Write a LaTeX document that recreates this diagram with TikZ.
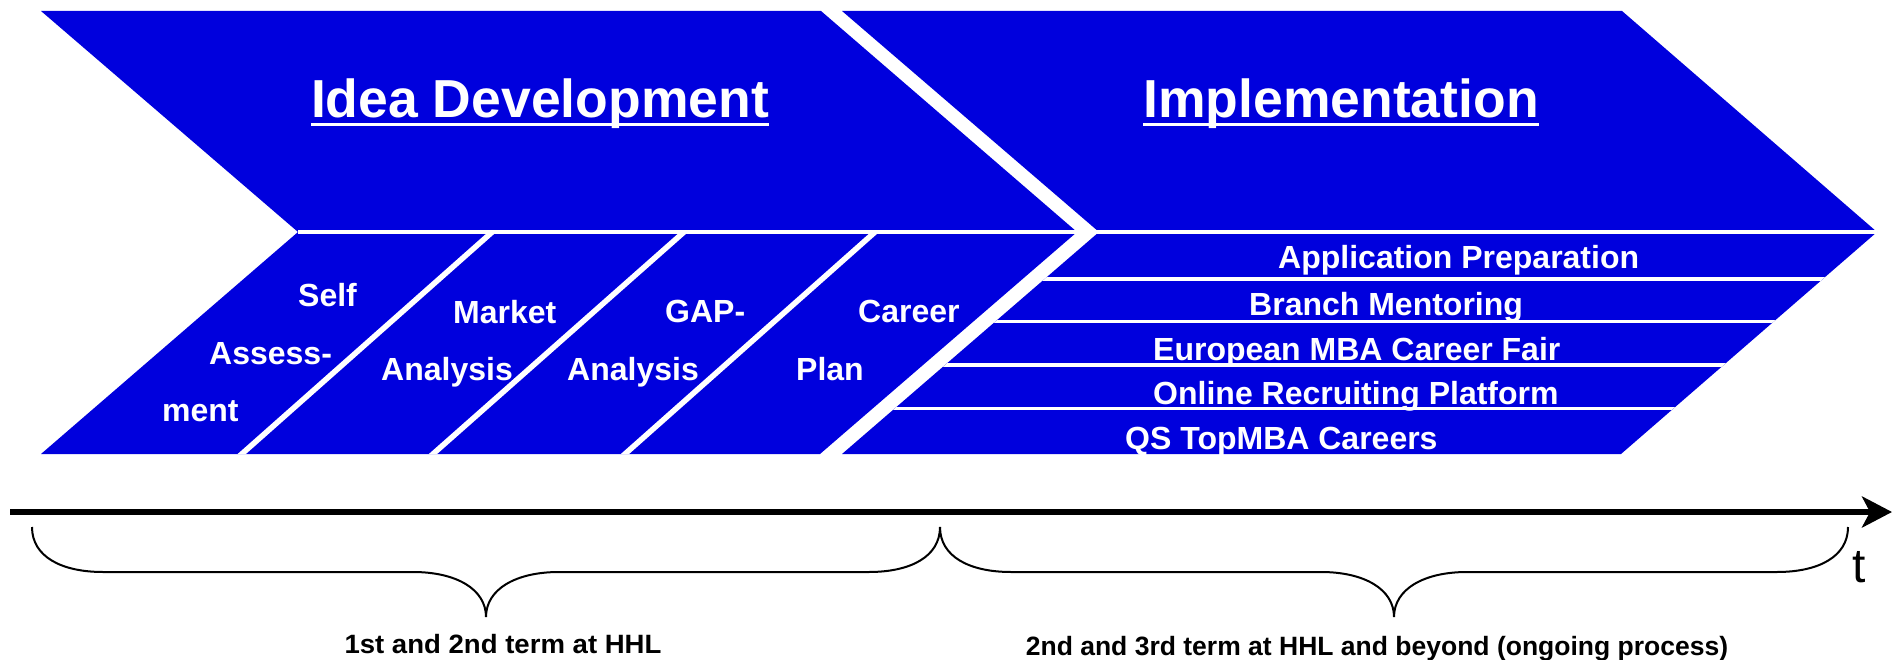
\documentclass[tikz,border=0pt]{standalone}
\usepackage{fontspec}
\setmainfont{Liberation Sans}
\usetikzlibrary{arrows.meta}
\definecolor{hhlblue}{RGB}{0,0,221}
\begin{document}
\begin{tikzpicture}[x=1pt,y=-1pt,
  blk/.style={fill=hhlblue,draw=none},
  sepline/.style={white,line width=3.5pt},
  diagline/.style={white,line width=5.5pt},
  lbl/.style={text=white,font=\bfseries\fontsize{32}{36}\selectfont,inner sep=0pt,anchor=base west},
  ttl/.style={text=white,font=\bfseries\fontsize{53.5}{60}\selectfont,inner sep=0pt,anchor=base},
  ulin/.style={white,line width=2.8pt},
  brc/.style={black,line width=2pt},
  caplbl/.style={font=\bfseries\fontsize{26.5}{30}\selectfont,inner sep=0pt,anchor=base}]
\useasboundingbox (0,0) rectangle (1894,660);
% chevrons
\path[blk] (41,11) -- (821,11) -- (1077,232) -- (820,454) -- (41,454) -- (298,232) -- cycle;
\path[blk] (842,11) -- (1622,11) -- (1877,232) -- (1621,454) -- (842,454) -- (1099,232) -- cycle;
\draw[sepline] (298,232) -- (1877,232);
% diagonal separators in idea development
\begin{scope}
\clip (298,233.5) -- (1077,233.5) -- (820,454) -- (41,454) -- cycle;
\draw[diagline] (235,460) -- (499,226);
\draw[diagline] (426.2,460) -- (690.8,226);
\draw[diagline] (618.2,460) -- (881.8,226);
\end{scope}
% row separators in implementation
\begin{scope}
\clip (1099,232) -- (1877,232) -- (1621,454) -- (842,454) -- cycle;
\draw[sepline] (800,279) -- (1900,279);
\draw[sepline] (800,321.5) -- (1900,321.5);
\draw[sepline] (800,365) -- (1900,365);
\draw[sepline] (800,408.5) -- (1900,408.5);
\end{scope}
% titles
\node[ttl] (t1) at (540,118) {Idea Development};
\node[ttl] (t2) at (1341,118) {Implementation};
\draw[ulin] ([yshift=-6.4pt]t1.base west) -- ([yshift=-6.4pt]t1.base east);
\draw[ulin] ([yshift=-6.4pt]t2.base west) -- ([yshift=-6.4pt]t2.base east);
% idea development labels
\node[lbl] (sa1) at (298,306) {Self};
\node[lbl] (sa2) at (209,364) {Assess-};
\node[lbl] (sa3) at (162,421) {ment};
\node[lbl] (ma1) at (453,323) {Market};
\node[lbl] (ma2) at (381,380) {Analysis};
\node[lbl] (ga1) at (665,322) {GAP-};
\node[lbl] (ga2) at (567,380) {Analysis};
\node[lbl] (cp1) at (858,322) {Career};
\node[lbl] (cp2) at (796,380) {Plan};
% implementation labels
\node[lbl] (r1) at (1278,269) {Application Preparation};
\node[lbl] (r2) at (1249,315) {Branch Mentoring};
\node[lbl] (r3) at (1153,360.5) {European MBA Career Fair};
\node[lbl] (r4) at (1153,404) {Online Recruiting Platform};
\node[lbl] (r5) at (1125,449) {QS TopMBA Careers};
% time axis
\coordinate (ax0) at (10,512);
\coordinate (ax1) at (1892,512);
\draw[line width=6.5pt,-{Stealth[length=30pt,width=31pt,inset=8pt]}] (ax0) -- (ax1);
\node[font=\fontsize{48}{52}\selectfont,inner sep=0pt,anchor=base] (tl) at (1859,582) {t};
% braces
\draw[brc] (32,527) .. controls (32,557) and (62,572) .. (103,572) -- (413,572)
  .. controls (456,572) and (486,589) .. (486,617)
  .. controls (486,589) and (516,572) .. (559,572) -- (869,572)
  .. controls (910,572) and (940,557) .. (940,527);
\draw[brc] (940,527) .. controls (940,557) and (970,572) .. (1011,572) -- (1321,572)
  .. controls (1364,572) and (1394,589) .. (1394,617)
  .. controls (1394,589) and (1424,572) .. (1467,572) -- (1777,572)
  .. controls (1818,572) and (1848,557) .. (1848,527);
\node[caplbl,xscale=1.04] (c1) at (503,653) {1st and 2nd term at HHL};
\node[caplbl] (c2) at (1377,655) {2nd and 3rd term at HHL and beyond (ongoing process)};
\end{tikzpicture}
\end{document}
